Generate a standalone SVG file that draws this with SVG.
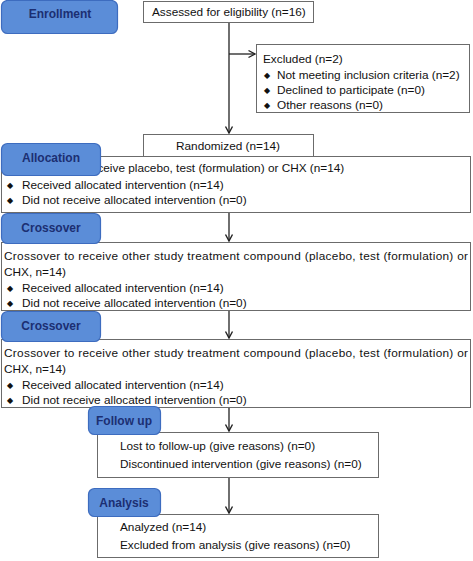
<svg xmlns="http://www.w3.org/2000/svg" width="473" height="561" viewBox="0 0 473 561">
<style>
.box{fill:#fff;stroke:#6b6b6b;stroke-width:1}
.lab{fill:#5b8dd8;stroke:#3d6cbf;stroke-width:1.2}
.lt{font-family:"Liberation Sans",Arial,sans-serif;font-size:12px;font-weight:bold;fill:#1c2f72;text-anchor:middle}
.t{font-family:"Liberation Sans",Arial,sans-serif;font-size:11.8px;fill:#111}
.b{font-family:"DejaVu Sans",sans-serif;font-size:8px;fill:#111}
.c{text-anchor:middle}
.ln{stroke:#222;stroke-width:1.3;fill:none}
</style>
<defs>
<marker id="ah" markerWidth="10" markerHeight="10" refX="8" refY="5" orient="auto" markerUnits="userSpaceOnUse">
<path d="M1.5,1.5 L8,5 L1.5,8.5" fill="none" stroke="#222" stroke-width="1.4"/>
</marker>
</defs>
<g id="connectors">
<path class="ln" d="M229,22 V133" marker-end="url(#ah)"/>
<path class="ln" d="M229,54 H255" marker-end="url(#ah)"/>
<path class="ln" d="M229,213 V241" marker-end="url(#ah)"/>
<path class="ln" d="M229,311 V338" marker-end="url(#ah)"/>
<path class="ln" d="M229,408 V431" marker-end="url(#ah)"/>
<path class="ln" d="M229,478 V513" marker-end="url(#ah)"/>
</g>
<g id="assessed">
<rect class="box" x="143.5" y="1.5" width="170" height="21"/>
<text class="t" x="152" y="16">Assessed for eligibility (n=16)</text>
</g>
<g id="excluded">
<rect class="box" x="256.5" y="44.5" width="213" height="68"/>
<text class="t" x="263" y="63">Excluded (n=2)</text>
<text class="b" x="264" y="78">◆</text><text class="t" x="277" y="79">Not meeting inclusion criteria (n=2)</text>
<text class="b" x="264" y="93">◆</text><text class="t" x="277" y="94">Declined to participate (n=0)</text>
<text class="b" x="264" y="108">◆</text><text class="t" x="277" y="109">Other reasons (n=0)</text>
</g>
<g id="randomized">
<rect class="box" x="143.5" y="134.5" width="170" height="22"/>
<text class="t c" x="228" y="150">Randomized (n=14)</text>
</g>
<g id="allocation-box">
<rect class="box" x="1.5" y="156.5" width="469" height="56"/>
<text class="t" x="22" y="172">Allocated to receive placebo, test (formulation) or CHX (n=14)</text>
<text class="b" x="7" y="188">◆</text><text class="t" x="22" y="189">Received allocated intervention (n=14)</text>
<text class="b" x="7" y="203">◆</text><text class="t" x="22" y="204">Did not receive allocated intervention (n=0)</text>
</g>
<g id="allocation-label">
<rect class="lab" x="1.5" y="143.5" width="99" height="32" rx="6"/>
<text class="lt" x="51" y="162">Allocation</text>
</g>
<g id="crossover1-box">
<rect class="box" x="1.5" y="242.5" width="469" height="68"/>
<text class="t" x="4" y="260" textLength="464" lengthAdjust="spacing">Crossover to receive other study treatment compound (placebo, test (formulation) or</text>
<text class="t" x="4" y="276">CHX, n=14)</text>
<text class="b" x="7" y="291">◆</text><text class="t" x="22" y="292">Received allocated intervention (n=14)</text>
<text class="b" x="7" y="306">◆</text><text class="t" x="22" y="307">Did not receive allocated intervention (n=0)</text>
</g>
<g id="crossover1-label">
<rect class="lab" x="1.5" y="213.5" width="99" height="30" rx="6"/>
<text class="lt" x="51" y="232">Crossover</text>
</g>
<g id="crossover2-box">
<rect class="box" x="1.5" y="339.5" width="469" height="68"/>
<text class="t" x="4" y="357" textLength="464" lengthAdjust="spacing">Crossover to receive other study treatment compound (placebo, test (formulation) or</text>
<text class="t" x="4" y="373">CHX, n=14)</text>
<text class="b" x="7" y="388">◆</text><text class="t" x="22" y="389">Received allocated intervention (n=14)</text>
<text class="b" x="7" y="403">◆</text><text class="t" x="22" y="404">Did not receive allocated intervention (n=0)</text>
</g>
<g id="crossover2-label">
<rect class="lab" x="1.5" y="311.5" width="99" height="30" rx="6"/>
<text class="lt" x="51" y="330">Crossover</text>
</g>
<g id="followup-box">
<rect class="box" x="97.5" y="432.5" width="281" height="45"/>
<text class="t" x="120" y="450">Lost to follow-up (give reasons) (n=0)</text>
<text class="t" x="120" y="468">Discontinued intervention (give reasons) (n=0)</text>
</g>
<g id="followup-label">
<rect class="lab" x="88.5" y="406.5" width="72" height="28" rx="6"/>
<text class="lt" x="124" y="425">Follow up</text>
</g>
<g id="analysis-box">
<rect class="box" x="97.5" y="514.5" width="281" height="43"/>
<text class="t" x="120" y="531">Analyzed (n=14)</text>
<text class="t" x="120" y="549">Excluded from analysis (give reasons) (n=0)</text>
</g>
<g id="analysis-label">
<rect class="lab" x="88.5" y="488.5" width="72" height="28" rx="6"/>
<text class="lt" x="124" y="507">Analysis</text>
</g>
<g id="enrollment-label">
<rect class="lab" x="1.5" y="0.5" width="116" height="33" rx="6"/>
<text class="lt" x="60" y="18">Enrollment</text>
</g>
</svg>
